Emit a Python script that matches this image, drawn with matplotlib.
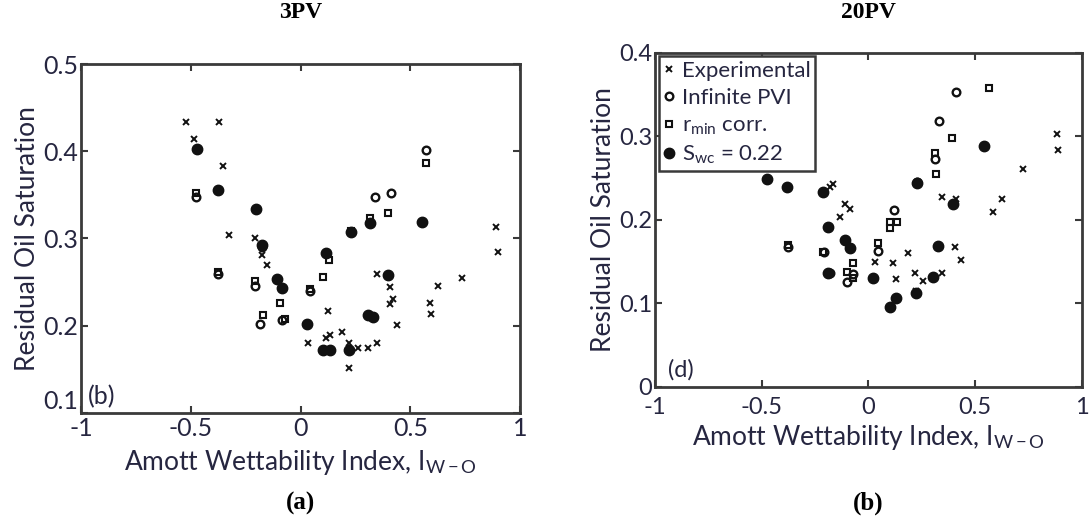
import numpy as np
import matplotlib
matplotlib.use('Agg')
import matplotlib.pyplot as plt


plt.rcParams['font.family'] = ['Lato', 'DejaVu Sans']
plt.rcParams['mathtext.fontset'] = 'custom'
plt.rcParams['mathtext.rm'] = 'Lato'
plt.rcParams['mathtext.it'] = 'Lato:italic'

xmin = -1
xmax = 1


# 3PV data (panel a).
expX3 = [-0.522, -0.373, -0.484, -0.355, -0.324, -0.207, -0.177, -0.154, 0.347, 0.408, 0.423, 0.408,
         0.734, 0.628, 0.590, 0.595, 0.891, 0.898, 0.127, 0.438, 0.036, 0.116, 0.134, 0.190,
         0.222, 0.260, 0.306, 0.347, 0.222]
expY3 = [0.433, 0.433, 0.414, 0.383, 0.304, 0.301, 0.281, 0.270, 0.259, 0.244, 0.231, 0.225,
         0.255, 0.245, 0.226, 0.213, 0.313, 0.284, 0.217, 0.201, 0.180, 0.186, 0.189, 0.193,
         0.180, 0.175, 0.175, 0.180, 0.151]
infX3 = [0.572, 0.339, 0.412, 0.317, 0.229, 0.116, 0.043, -0.476, -0.377, -0.207, -0.185, -0.086, -0.177]
infY3 = [0.401, 0.348, 0.352, 0.318, 0.308, 0.283, 0.240, 0.347, 0.259, 0.246, 0.202, 0.207, 0.290]
rminX3 = [0.572, 0.397, 0.317, 0.131, 0.104, 0.043, -0.476, -0.377, -0.207, -0.093, -0.172, -0.071, 0.229]
rminY3 = [0.387, 0.329, 0.324, 0.275, 0.256, 0.242, 0.352, 0.262, 0.251, 0.226, 0.212, 0.208, 0.309]
swcX3 = [-0.473, -0.377, -0.204, -0.177, -0.109, -0.083, 0.552, 0.317, 0.229, 0.116, 0.400,
         0.031, 0.309, 0.332, 0.104, 0.134, 0.222]
swcY3 = [0.403, 0.356, 0.334, 0.293, 0.254, 0.243, 0.319, 0.318, 0.308, 0.283, 0.258,
         0.202, 0.212, 0.210, 0.172, 0.172, 0.172]

# 20PV data (panel b).
expX20 = [-0.180, -0.168, -0.110, -0.087, -0.133, 0.884, 0.890, 0.724, 0.343, 0.412, 0.624, 0.585,
          0.403, 0.187, 0.434, 0.030, 0.113, 0.127, 0.218, 0.254, 0.343, 0.221]
expY20 = [0.240, 0.243, 0.219, 0.213, 0.204, 0.303, 0.284, 0.261, 0.228, 0.225, 0.225, 0.210,
          0.168, 0.161, 0.152, 0.150, 0.148, 0.129, 0.137, 0.127, 0.137, 0.115]
infX20 = [0.408, 0.330, 0.311, 0.225, 0.121, 0.043, -0.071, -0.102, -0.208, -0.375, -0.180]
infY20 = [0.353, 0.318, 0.273, 0.245, 0.212, 0.163, 0.135, 0.126, 0.162, 0.168, 0.137]
rminX20 = [0.566, 0.393, 0.311, 0.315, 0.101, 0.132, 0.101, 0.043, -0.071, -0.102, -0.071, -0.212, -0.379]
rminY20 = [0.358, 0.298, 0.280, 0.255, 0.198, 0.197, 0.190, 0.173, 0.148, 0.138, 0.131, 0.162, 0.170]
swcX20 = [-0.477, -0.380, -0.212, -0.188, -0.110, -0.087, -0.188, 0.543, 0.225, 0.397, 0.324,
          0.022, 0.301, 0.221, 0.127, 0.101]
swcY20 = [0.249, 0.239, 0.234, 0.192, 0.176, 0.166, 0.137, 0.289, 0.244, 0.219, 0.169,
          0.131, 0.132, 0.112, 0.106, 0.096]

xticks = [-1, -0.5, 0, 0.5, 1]
xtickLabels = ['-1', '-0.5', '0', '0.5', '1']
yticks3 = [0.1, 0.2, 0.3, 0.4, 0.5]
yticks3Labels = ['0.1', '0.2', '0.3', '0.4', '0.5']
yticks20 = [0, 0.1, 0.2, 0.3, 0.4]
yticks20Labels = ['0', '0.1', '0.2', '0.3', '0.4']

ink = '#111111'
spine = '#3a3a3a'
textColor = '#262640'


def plotSeries(ax, expX, expY, infX, infY, rminX, rminY, swcX, swcY):
    ax.plot(expX, expY, 'x', color = ink, ms = 4, mew = 1.4, label = 'Experimental')
    ax.plot(infX, infY, 'o', color = ink, mfc = 'none', ms = 5.5, mew = 1.7, label = 'Infinite PVI')
    ax.plot(rminX, rminY, 's', color = ink, mfc = 'none', ms = 5, mew = 1.5, label = r'r$_{\mathregular{min}}$ corr.')
    ax.plot(swcX, swcY, 'o', color = ink, ms = 7.5, label = r'S$_{\mathregular{wc}}$ = 0.22')


def styleAxes(ax, yticks, ytickLabels, ymin, ymax, tickSize, labelSize, xPad, xlabelPad, raiseLowest):
    ax.set_xlim(xmin, xmax)
    ax.set_ylim(ymin, ymax)
    ax.set_xticks(xticks)
    ax.set_xticklabels(xtickLabels)
    ax.set_yticks(yticks)
    ax.set_yticklabels(ytickLabels)
    ax.tick_params(direction = 'in', top = True, right = True, length = 5, width = 1.5,
                   color = spine, labelsize = tickSize, labelcolor = textColor, pad = 2)
    ax.tick_params(axis = 'x', pad = xPad)
    for s in ax.spines.values():
        s.set_linewidth(2)
        s.set_color(spine)
    ax.set_xlabel(r'Amott Wettability Index, I$_{\mathregular{W-O}}$', fontsize = labelSize, color = textColor, labelpad = xlabelPad)
    ax.set_ylabel('Residual Oil Saturation', fontsize = labelSize, color = textColor, labelpad = 2)
    if raiseLowest:
        # the lowest y label sits a little higher so it clears the -1
        ax.get_yticklabels()[0].set_verticalalignment('bottom')


fig = plt.figure(figsize = (10.92, 5.17), dpi = 100)

# 3PV.
ax1 = fig.add_axes([0.0742, 0.2012, 0.402, 0.675])
plotSeries(ax1, expX3, expY3, infX3, infY3, rminX3, rminY3, swcX3, swcY3)
styleAxes(ax1, yticks3, yticks3Labels, 0.1, 0.5, 18, 19, 3, 6, True)
ax1.text(0.015, 0.025, '(b)', transform = ax1.transAxes, fontsize = 18, color = textColor)

# 20PV.
ax2 = fig.add_axes([0.5998, 0.2515, 0.391, 0.646])
plotSeries(ax2, expX20, expY20, infX20, infY20, rminX20, rminY20, swcX20, swcY20)
styleAxes(ax2, yticks20, yticks20Labels, 0, 0.4, 17, 19, 7, 4, False)
ax2.text(0.03, 0.03, '(d)', transform = ax2.transAxes, fontsize = 17, color = textColor)
leg = ax2.legend(loc = 'upper left', bbox_to_anchor = (0.005, 0.997), fontsize = 16, frameon = True,
                 fancybox = False, framealpha = 1, edgecolor = spine, borderpad = 0.2,
                 labelspacing = 0.33, handlelength = 0.5, handletextpad = 0.3, borderaxespad = 0.1)
leg.get_frame().set_linewidth(1.8)
for t in leg.get_texts():
    t.set_color(textColor)

# Panel titles and captions.
serif = ['Liberation Serif', 'DejaVu Serif']
fig.text(0.2752, 0.975, '3PV', ha = 'center', va = 'center', fontsize = 17, fontweight = 'bold', family = serif)
fig.text(0.7955, 0.975, '20PV', ha = 'center', va = 'center', fontsize = 17, fontweight = 'bold', family = serif)
fig.text(0.2752, 0.027, '(a)', ha = 'center', va = 'center', fontsize = 18, fontweight = 'bold', family = serif)
fig.text(0.7955, 0.027, '(b)', ha = 'center', va = 'center', fontsize = 18, fontweight = 'bold', family = serif)

fig.savefig('out.png', dpi = 100)
